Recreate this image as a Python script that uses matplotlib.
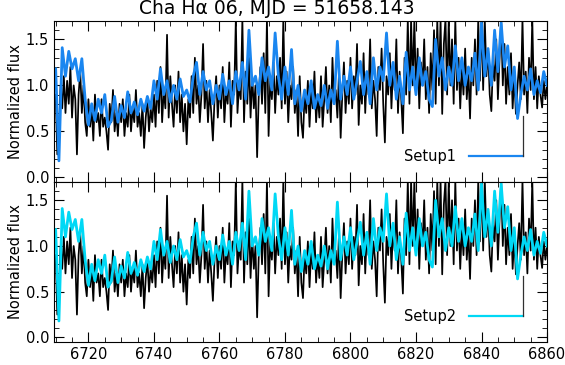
import matplotlib
matplotlib.use("Agg")
import matplotlib.pyplot as plt
from matplotlib.ticker import MultipleLocator
import numpy as np

plt.rcParams['font.family'] = ['DejaVu Sans']

title = "Cha H\u03b1 06, MJD = 51658.143"
ylabel = "Normalized flux"
labels = ["Setup1", "Setup2"]
colors = ["#1a86f0", "#00d8f5"]

# observed spectrum, 0.5 A steps from 6710 to 6860
obs_start, obs_step = 6710.0, 0.5
observed = [
    0.9, 0.25, 0.5, 1.0, 0.75, 1.1, 0.7, 1.05, 0.8, 1.2, 0.65, 1.0, 0.85, 0.25, 0.9, 1.15, 0.7, 1.0, 0.6, 0.45,
    0.85, 0.55, 0.75, 0.4, 0.9, 0.6, 0.7, 0.45, 0.85, 0.55, 0.65, 0.5, 0.3, 0.8, 0.6, 0.95, 0.5, 0.7, 0.45, 0.8,
    0.6, 0.85, 0.45, 0.7, 0.55, 0.9, 0.5, 0.75, 0.6, 0.95, 0.55, 0.7, 0.45, 0.8, 0.32, 0.65, 0.85, 0.5, 0.75, 0.6,
    0.9, 0.55, 1.05, 0.7, 1.2, 0.6, 0.95, 0.75, 1.55, 0.65, 1.1, 0.8, 0.55, 1.0, 0.7, 1.15, 0.6, 0.9, 0.5, 0.8,
    0.36, 0.85, 0.65, 1.1, 0.7, 1.3, 0.8, 1.0, 0.6, 0.9, 1.45, 0.75, 1.05, 0.6, 0.95, 0.7, 0.4, 0.85, 1.1, 0.65,
    1.0, 0.75, 1.2, 0.6, 0.95, 0.8, 1.25, 0.55, 1.05, 0.9, 1.72, 0.7, 1.0, 0.85, 1.72, 0.6, 1.15, 0.8, 1.3, 0.65,
    1.1, 0.75, 1.0, 0.22, 0.9, 1.2, 0.8, 1.35, 0.7, 1.72, 0.45, 1.05, 0.85, 1.25, 0.7, 1.1, 0.9, 1.3, 0.75, 1.72,
    0.8, 1.15, 0.6, 1.0, 0.85, 1.2, 0.7, 0.95, 0.45, 1.1, 0.6, 0.43, 0.9, 0.7, 1.05, 0.55, 0.95, 0.75, 1.15, 0.6,
    0.9, 0.65, 1.1, 0.55, 0.85, 1.2, 0.7, 1.0, 0.6, 1.3, 0.8, 0.95, 0.65, 1.15, 0.43, 0.9, 1.25, 0.7, 1.05, 0.8,
    1.3, 0.75, 1.1, 0.9, 1.45, 0.57, 1.0, 0.8, 1.35, 0.7, 1.15, 0.9, 1.5, 0.75, 1.05, 0.85, 0.45, 1.2, 0.95, 1.4,
    0.8, 0.38, 1.1, 0.9, 1.35, 0.75, 1.2, 0.95, 1.5, 0.7, 1.15, 0.85, 0.48, 1.3, 0.9, 1.72, 0.8, 1.72, 1.0, 1.72,
    0.9, 1.4, 0.75, 1.25, 1.0, 1.5, 0.85, 1.2, 0.7, 1.35, 0.95, 1.6, 0.8, 1.72, 1.0, 1.72, 0.69, 1.45, 1.72, 0.9,
    1.72, 1.0, 1.5, 0.8, 1.72, 0.95, 1.3, 0.75, 1.2, 0.9, 1.4, 0.85, 1.15, 0.64, 1.3, 1.0, 1.5, 0.9, 1.72, 1.05,
    1.72, 0.95, 1.72, 1.1, 1.4, 0.9, 0.72, 1.25, 1.05, 1.5, 0.85, 1.3, 1.72, 1.0, 1.45, 0.8, 1.2, 0.9, 1.35, 0.75,
    1.1, 0.69, 1.0, 1.25, 0.85, 1.72, 0.9, 1.15, 0.7, 1.3, 0.95, 1.72, 0.85, 1.2, 0.75, 1.1, 0.9, 0.76, 1.05, 0.85,
    1.0,
]

# model spectra, 1 A steps from 6710 to 6860
mod_start, mod_step = 6710.0, 1.0
setup1 = [
    1.18, 0.18, 1.41, 1.1, 1.37, 1.18, 1.29, 1.05, 1.29, 0.85,
    0.57, 0.8, 0.62, 0.85, 0.7, 0.9, 0.55, 0.62, 0.88, 0.6,
    0.78, 0.65, 0.93, 0.7, 0.82, 0.68, 0.85, 0.72, 0.88, 0.75,
    1.05, 0.85, 1.18, 0.9, 1.05, 0.82, 1.0, 0.85, 1.07, 0.88,
    0.95, 0.82, 1.1, 1.25, 0.9, 1.15, 0.95, 1.05, 0.8, 1.0,
    0.85, 1.12, 0.9, 1.05, 0.8, 1.15, 0.95, 1.25, 0.85, 1.6,
    1.0, 1.1, 0.9, 1.3, 1.05, 1.2, 0.95, 1.57, 1.1, 0.85,
    1.2, 0.9, 1.39, 0.8, 1.0, 0.72, 0.95, 0.8, 1.05, 0.75,
    0.9, 0.78, 1.0, 0.75, 0.95, 0.8, 1.48, 0.85, 1.1, 0.9,
    1.2, 0.85, 1.05, 1.26, 0.9, 1.15, 0.8, 1.3, 0.95, 1.2,
    1.05, 1.57, 1.0, 1.25, 0.85, 1.1, 0.8, 1.36, 0.95, 1.2,
    0.9, 1.3, 1.0, 1.15, 0.85, 0.77, 1.5, 1.1, 1.3, 0.95,
    1.2, 1.0, 1.43, 1.05, 1.3, 1.0, 1.2, 1.05, 1.35, 0.95,
    1.68, 1.1, 1.4, 1.0, 1.6, 1.15, 1.68, 1.2, 1.43, 0.95,
    1.2, 0.64, 0.9, 1.1, 0.95, 1.18, 0.9, 1.05, 0.92, 1.15,
    1.0,
]
setup2 = list(setup1)

wl_obs = obs_start + obs_step * np.arange(len(observed))
wl_mod = mod_start + mod_step * np.arange(len(setup1))

fig = plt.figure(figsize=(5.65, 3.65), dpi=100)
ax1 = fig.add_axes([0.0956, 0.5014, 0.8726, 0.4411])
ax2 = fig.add_axes([0.0956, 0.063, 0.8726, 0.4384])

for ax, model, lab, col in zip([ax1, ax2], [setup1, setup2], labels, colors):
    ax.plot(wl_obs, observed, color='black', lw=1.25)
    ax.plot(wl_mod, model, color=col, lw=2.0)
    ax.set_xlim(6709.5, 6860)
    ax.set_ylim(-0.05, 1.7)
    ax.xaxis.set_major_locator(MultipleLocator(20))
    ax.xaxis.set_minor_locator(MultipleLocator(5))
    ax.yaxis.set_major_locator(MultipleLocator(0.5))
    ax.yaxis.set_minor_locator(MultipleLocator(0.1))
    ax.tick_params(which='both', direction='in', top=True, right=True, labelsize=10.5)
    ax.tick_params(which='major', length=7)
    ax.tick_params(which='minor', length=3.5)
    ax.set_ylabel(ylabel, fontsize=10.5, labelpad=2)
    ax.yaxis.set_major_formatter(matplotlib.ticker.FormatStrFormatter('%.1f'))
    # legend marker: label, coloured line and a pointer up to the spectrum
    ax.text(0.815, 0.16, lab, transform=ax.transAxes, ha='right', va='center', fontsize=10.5)
    ax.plot([0.842, 0.951], [0.16, 0.16], color=col, lw=1.6, transform=ax.transAxes)
    ax.plot([0.951, 0.951], [0.16, 0.41], color='#303030', lw=0.9, transform=ax.transAxes)

ax1.tick_params(labelbottom=False)
fig.text(0.49, 0.978, title, ha='center', va='center', fontsize=13.5)

fig.savefig("out.png", dpi=100)
